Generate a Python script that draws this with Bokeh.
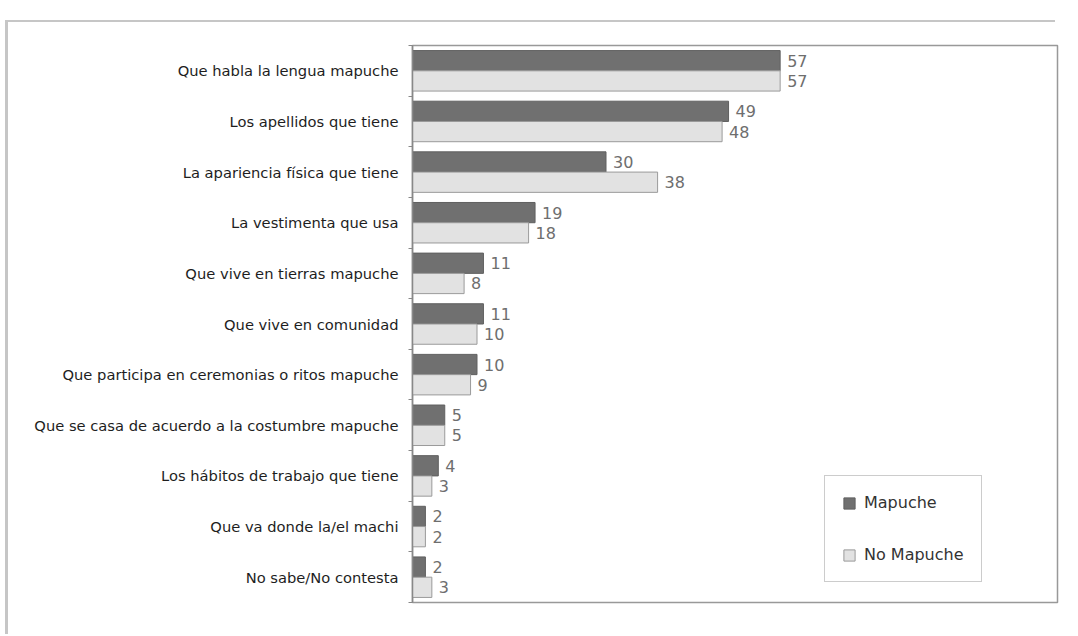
from bokeh.plotting import figure
from bokeh.models import Range1d, FixedTicker, ColumnDataSource, Legend, LegendItem
from bokeh.embed import file_html
from bokeh.resources import INLINE
from bokeh.core.properties import value

categories = [
    "Que habla la lengua mapuche",
    "Los apellidos que tiene",
    "La apariencia física que tiene",
    "La vestimenta que usa",
    "Que vive en tierras mapuche",
    "Que vive en comunidad",
    "Que participa en ceremonias o ritos mapuche",
    "Que se casa de acuerdo a la costumbre mapuche",
    "Los hábitos de trabajo que tiene",
    "Que va donde la/el machi",
    "No sabe/No contesta",
]
mapuche = [57, 49, 30, 19, 11, 11, 10, 5, 4, 2, 2]
no_mapuche = [57, 48, 38, 18, 8, 10, 9, 5, 3, 2, 3]
series_names = ["Mapuche", "No Mapuche"]

FONT = "DejaVu Sans"
n = len(categories)
centers = [i + 0.5 for i in range(n)]

p = figure(width=1076, height=634, output_backend="svg", toolbar_location=None,
           x_range=Range1d(0, 100), y_range=Range1d(n, 0),
           min_border_left=412, min_border_right=19, min_border_top=45, min_border_bottom=32)
p.background_fill_color = "white"
p.border_fill_color = None
p.outline_line_color = "#999999"
p.outline_line_width = 1.5
p.xgrid.visible = False
p.ygrid.visible = False
p.xaxis.visible = False
p.styles = {
    "background": "linear-gradient(#c6c6c6, #c6c6c6) 5px 20px / 3px 620px no-repeat, "
                  "linear-gradient(#c6c6c6, #c6c6c6) 5px 20px / 1050px 2px no-repeat, white"
}

ya = p.yaxis[0]
ya.ticker = FixedTicker(ticks=centers, minor_ticks=list(range(n + 1)))
ya.major_label_overrides = {c: lab for c, lab in zip(centers, categories)}
ya.major_tick_line_color = None
ya.major_tick_out = 0
ya.major_tick_in = 0
ya.minor_tick_out = 4
ya.minor_tick_in = 0
ya.minor_tick_line_color = "#888888"
ya.axis_line_color = "#888888"
ya.axis_line_width = 1.5
ya.major_label_standoff = 10
ya.major_label_text_font = FONT
ya.major_label_text_font_size = "14.7px"
ya.major_label_text_color = "#1e1e1e"

src1 = ColumnDataSource(dict(y=[c - 0.2 for c in centers], v=mapuche, t=[str(v) for v in mapuche]))
src2 = ColumnDataSource(dict(y=[c + 0.2 for c in centers], v=no_mapuche, t=[str(v) for v in no_mapuche]))

r1 = p.hbar(y="y", right="v", left=0, height=0.4, source=src1,
            fill_color="#707070", line_color="#606060", line_width=1)
r2 = p.hbar(y="y", right="v", left=0, height=0.4, source=src2,
            fill_color="#e2e2e2", line_color="#9a9a9a", line_width=1)

for src in (src1, src2):
    p.text(x="v", y="y", text="t", source=src, x_offset=7, text_align="left",
           text_baseline="middle", text_font=value(FONT), text_font_size="16px",
           text_color="#6e6e6e")

legend = Legend(items=[LegendItem(label=series_names[0], renderers=[r1]),
                       LegendItem(label=series_names[1], renderers=[r2])],
                location=(412, 20))
legend.label_text_font = FONT
legend.label_text_font_size = "16px"
legend.label_text_color = "#333333"
legend.glyph_width = 14
legend.glyph_height = 14
legend.label_height = 18
legend.spacing = 33
legend.padding = 17
legend.label_standoff = 8
legend.border_line_color = "#999999"
legend.border_line_width = 1.5
legend.background_fill_color = "white"
legend.background_fill_alpha = 1
p.add_layout(legend, "center")

open("out.html", "w").write(file_html(p, INLINE))
